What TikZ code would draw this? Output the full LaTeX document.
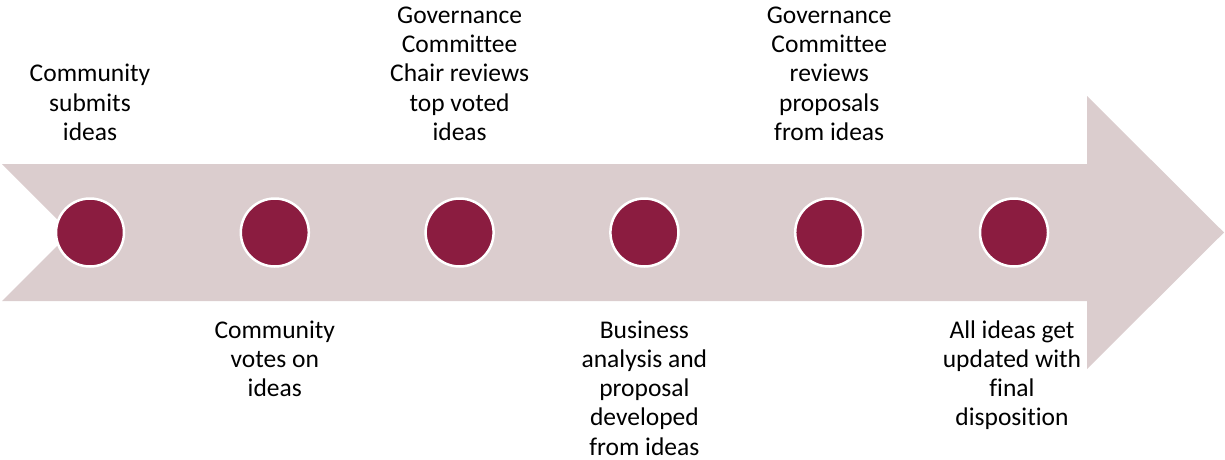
\documentclass[tikz,border=0pt]{standalone}
\usepackage{fontspec}
\setmainfont{Carlito}[Ligatures=NoCommon]
\definecolor{arrowfill}{RGB}{219,205,206}
\definecolor{dotfill}{RGB}{139,28,64}
\tikzset{
  dot/.style={circle, fill=dotfill, draw=white, line width=2.5pt, minimum size=68pt, inner sep=0pt},
  lbl/.style={align=center, inner sep=0pt, font=\fontsize{25.5}{29.3}\selectfont, text=black, anchor=base}
}
\begin{document}
\begin{tikzpicture}[x=1pt, y=-1pt]
\useasboundingbox (0,0) rectangle (1225,460);
\fill[arrowfill] (2,164) -- (1087,164) -- (1087,96) -- (1224,232.5) -- (1087,369) -- (1087,301) -- (2,301) -- (70.5,232.5) -- cycle;
\node[dot] (c1) at (90,232.5) {};
\node[dot] (c2) at (274.8,232.5) {};
\node[dot] (c3) at (459.6,232.5) {};
\node[dot] (c4) at (644.4,232.5) {};
\node[dot] (c5) at (829.2,232.5) {};
\node[dot] (c6) at (1014,232.5) {};
\node[lbl] (t1) at (90,140.5) {Community\\submits\\ideas};
\node[lbl] (t3) at (459.6,140.5) {Governance\\Committee\\Chair reviews\\top voted\\ideas};
\node[lbl] (t5) at (829.2,140.5) {Governance\\Committee\\reviews\\proposals\\from ideas};
\node[lbl] (b2) at (274.8,396.6) {Community\\votes on\\ideas};
\node[lbl] (b4) at (644.4,455.2) {Business\\analysis and\\proposal\\developed\\from ideas};
\node[lbl] (b6) at (1012,425.9) {All ideas get\\updated with\\final\\disposition};
\end{tikzpicture}
\end{document}
